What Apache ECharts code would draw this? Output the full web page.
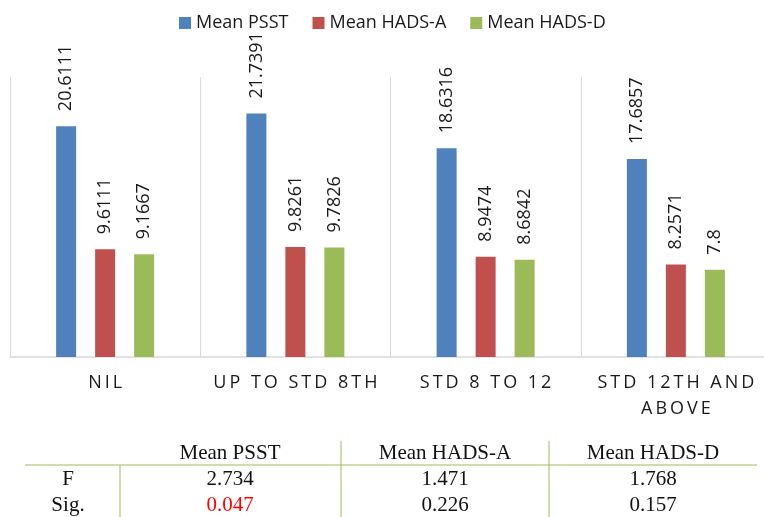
<!DOCTYPE html>
<html style="height:100%;width:100%;">
<head>
  <meta charset="utf-8">
  <title>Mean scores by education</title>
  <script src="https://cdn.jsdelivr.net/npm/echarts@6/dist/echarts.min.js"></script>
</head>
<body style="margin:0px;height:100%;width:100%;background:#fff;">
  <div id="main" style="width:764px;height:517px"></div>
  <script type="text/javascript">
    // data
    var categories = ['NIL', 'UP TO STD 8TH', 'STD 8 TO 12', 'STD 12TH AND ABOVE'];
    var seriesNames = ['Mean PSST', 'Mean HADS-A', 'Mean HADS-D'];
    var psst = [20.6111, 21.7391, 18.6316, 17.6857];
    var hadsA = [9.6111, 9.8261, 8.9474, 8.2571];
    var hadsD = [9.1667, 9.7826, 8.6842, 7.8];
    // table under the chart
    var tableHeader = ['', 'Mean PSST', 'Mean HADS-A', 'Mean HADS-D'];
    var fRow = ['F', 2.734, 1.471, 1.768];
    var sigRow = ['Sig.', 0.047, 0.226, 0.157];
    var sigLevel = 0.05;

    var colors = ['#4f81bd', '#c0504d', '#9bbb59'];
    var sansFont = '"Open Sans", sans-serif';
    var serifFont = '"Liberation Serif", "DejaVu Serif", serif';

    // spaced-out caps like the original axis labels, wrapped when long
    function spaced(v) {
      var words = v.split(' ');
      var lines = [], cur = '';
      words.forEach(function (w) {
        var t = cur ? cur + ' ' + w : w;
        if (t.length > 13 && cur) { lines.push(cur); cur = w; } else { cur = t; }
      });
      lines.push(cur);
      return lines.map(function (l) { return l.split('').join('\u2009'); }).join('\n');
    }

    // table graphics
    var colX = [68, 230, 445, 653];
    var rowY = [453, 479, 505];
    var lineColor = '#9bbb59';
    var graphics = [
      { type: 'line', shape: { x1: 25, y1: 465, x2: 757, y2: 465 }, style: { stroke: lineColor, lineWidth: 1 } },
      { type: 'line', shape: { x1: 120, y1: 465, x2: 120, y2: 517 }, style: { stroke: lineColor, lineWidth: 1 } },
      { type: 'line', shape: { x1: 341, y1: 441, x2: 341, y2: 517 }, style: { stroke: lineColor, lineWidth: 1 } },
      { type: 'line', shape: { x1: 549, y1: 441, x2: 549, y2: 517 }, style: { stroke: lineColor, lineWidth: 1 } }
    ];
    [tableHeader, fRow, sigRow].forEach(function (row, r) {
      row.forEach(function (cell, c) {
        if (cell === '') return;
        var red = (r === 2 && c > 0 && cell < sigLevel);
        graphics.push({
          type: 'text',
          x: colX[c],
          y: rowY[r],
          style: {
            text: String(cell),
            font: '21px ' + serifFont,
            fill: red ? '#ff0000' : '#111',
            align: 'center',
            verticalAlign: 'middle'
          }
        });
      });
    });

    var labelOpt = {
      show: true,
      position: 'top',
      rotate: 90,
      align: 'left',
      verticalAlign: 'middle',
      distance: 15,
      fontFamily: sansFont,
      fontSize: 18,
      color: '#1a1a1a'
    };

    function barSeries(name, data, i) {
      return {
        name: name,
        type: 'bar',
        data: data,
        barWidth: 20,
        barGap: '95%',
        itemStyle: { color: colors[i] },
        label: labelOpt
      };
    }

    var myChart = echarts.init(document.getElementById('main'));
    var option = {
      animation: false,
      color: colors,
      legend: {
        data: seriesNames,
        left: 174,
        top: 9,
        icon: 'rect',
        itemWidth: 12,
        itemHeight: 12,
        itemGap: 24,
        textStyle: { fontFamily: sansFont, fontSize: 18, color: '#1a1a1a' }
      },
      grid: { left: 10, width: 761, top: 77, height: 280, containLabel: false, outerBoundsMode: 'none' },
      xAxis: {
        type: 'category',
        data: categories,
        axisLine: { lineStyle: { color: '#d9d9d9', width: 1.5 } },
        axisTick: { show: false },
        splitLine: { show: true, lineStyle: { color: '#d9d9d9', width: 1 } },
        axisLabel: {
          margin: 13,
          interval: 0,
          fontFamily: sansFont,
          fontSize: 18,
          lineHeight: 26,
          color: '#1a1a1a',
          formatter: spaced
        }
      },
      yAxis: {
        type: 'value',
        min: 0,
        max: 25,
        show: false,
        splitLine: { show: false }
      },
      series: [
        barSeries(seriesNames[0], psst, 0),
        barSeries(seriesNames[1], hadsA, 1),
        barSeries(seriesNames[2], hadsD, 2)
      ],
      graphic: graphics
    };
    myChart.setOption(option);
  </script>
</body>
</html>
